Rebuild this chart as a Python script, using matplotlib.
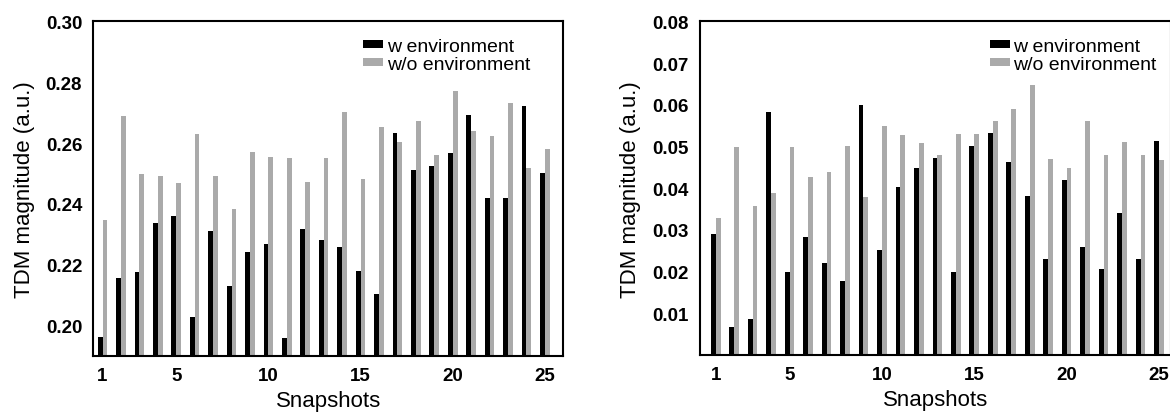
import numpy as np
import matplotlib
matplotlib.use("Agg")
import matplotlib.pyplot as plt

plt.rcParams['font.family'] = ['Liberation Sans', 'DejaVu Sans']

# snapshot index
snapshots = np.arange(1, 26)

# left panel: TDM magnitude
left_w = [0.1961, 0.2155, 0.2177, 0.2336, 0.2361, 0.2027, 0.2310, 0.2130, 0.2241, 0.2269,
          0.1958, 0.2317, 0.2281, 0.2259, 0.2180, 0.2105, 0.2634, 0.2512, 0.2523, 0.2566,
          0.2692, 0.2419, 0.2419, 0.2721, 0.2500]
left_wo = [0.2347, 0.2690, 0.2499, 0.2490, 0.2470, 0.2631, 0.2491, 0.2382, 0.2571, 0.2553,
           0.2551, 0.2471, 0.2551, 0.2701, 0.2481, 0.2654, 0.2602, 0.2671, 0.2562, 0.2772,
           0.2638, 0.2623, 0.2731, 0.2519, 0.2581]

# right panel: TDM magnitude
right_w = [0.0289, 0.0066, 0.0086, 0.0582, 0.0200, 0.0282, 0.0220, 0.0178, 0.0600, 0.0252,
           0.0402, 0.0448, 0.0473, 0.0198, 0.0501, 0.0533, 0.0462, 0.0380, 0.0230, 0.0419,
           0.0258, 0.0205, 0.0340, 0.0229, 0.0512]
right_wo = [0.0329, 0.0498, 0.0357, 0.0388, 0.0499, 0.0427, 0.0438, 0.0500, 0.0378, 0.0549,
            0.0527, 0.0508, 0.0479, 0.0529, 0.0529, 0.0560, 0.0589, 0.0648, 0.0470, 0.0448,
            0.0560, 0.0479, 0.0510, 0.0479, 0.0468]

xticks = [1, 5, 10, 15, 20, 25]
left_yticks = [0.20, 0.22, 0.24, 0.26, 0.28, 0.30]
right_yticks = [0.01, 0.02, 0.03, 0.04, 0.05, 0.06, 0.07, 0.08]

W, H = 1170, 414
fig = plt.figure(figsize=(W/100, H/100), dpi=100)
ax1 = fig.add_axes([93.3/W, 57/H, 470/W, 334.7/H])
ax2 = fig.add_axes([700/W, 58/H, 471/W, 333.7/H])

black = '#000000'
gray = '#aaaaaa'
bw = 0.26

def draw(ax, yw, ywo, ylim, yticks, xlim, legx):
    ax.bar(snapshots - bw/2, yw, width=bw, color=black, label='w environment')
    ax.bar(snapshots + bw/2, ywo, width=bw, color=gray, label='w/o environment')
    ax.set_xlim(*xlim)
    ax.set_ylim(*ylim)
    ax.set_xticks(xticks)
    ax.set_yticks(yticks)
    ax.set_yticklabels(['%.2f' % v for v in yticks])
    ax.tick_params(length=0, labelsize=13.5, pad=8)
    for lab in ax.get_xticklabels() + ax.get_yticklabels():
        lab.set_fontweight('bold')
    for s in ax.spines.values():
        s.set_linewidth(1.5)
    ax.set_xlabel('Snapshots', fontsize=16, labelpad=4)
    ax.set_ylabel('TDM magnitude (a.u.)', fontsize=16, labelpad=8)
    ax.legend(loc='upper right', bbox_to_anchor=(legx, 0.95), frameon=False,
              fontsize=14, handlelength=1.0, handleheight=0.2, handletextpad=0.2,
              labelspacing=0.05, borderpad=0, borderaxespad=0)

draw(ax1, left_w, left_wo, (0.19, 0.30), left_yticks, (0.5, 26.0), 0.929)
draw(ax2, right_w, right_wo, (0.0, 0.08), right_yticks, (0.15, 25.65), 0.970)

fig.savefig('out.png', dpi=100)
